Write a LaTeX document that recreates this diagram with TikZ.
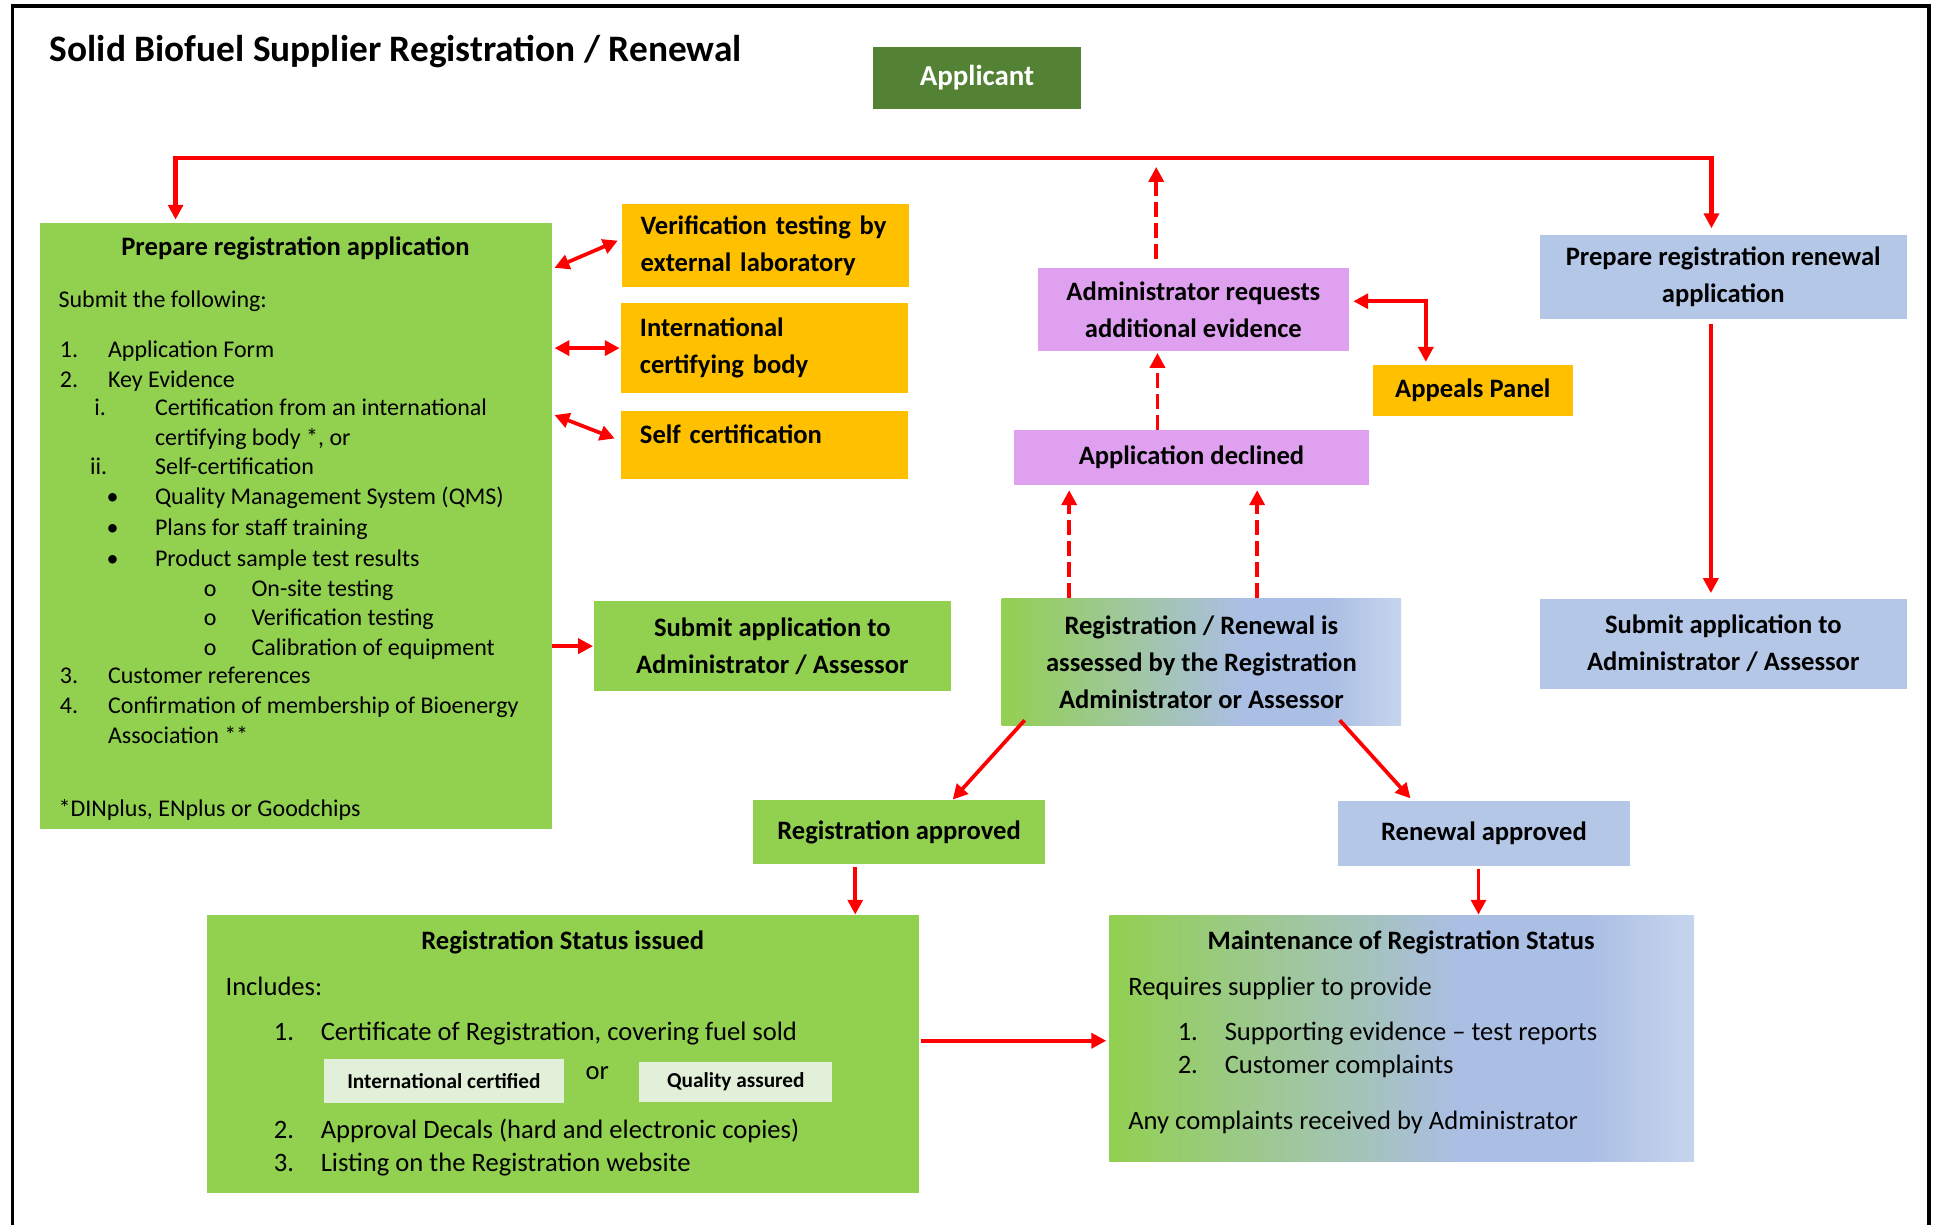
\documentclass[tikz,border=0pt]{standalone}
\usepackage{fontspec}
\setmainfont{Carlito}
\usetikzlibrary{arrows.meta,calc}
\definecolor{cgreen}{RGB}{146,208,80}
\definecolor{corange}{RGB}{255,192,0}
\definecolor{cpurple}{RGB}{224,160,240}
\definecolor{cblue}{RGB}{180,199,231}
\definecolor{cdark}{RGB}{84,130,53}
\definecolor{clight}{RGB}{226,240,217}
\definecolor{gb}{RGB}{171,190,228}
\definecolor{gl}{RGB}{198,213,238}
\pgfdeclarehorizontalshading{gradbox}{100bp}{color(0bp)=(cgreen); color(25bp)=(cgreen); color(55bp)=(gb); color(66bp)=(gb); color(75bp)=(gl); color(100bp)=(gl)}
\newcounter{tln}
\newcommand\lineA[4][]{\stepcounter{tln}\node[txt,fa,#1] (tl\arabic{tln}) at (#2,#3) {#4};}
\newcommand\lineB[4][]{\stepcounter{tln}\node[txt,fb,#1] (tl\arabic{tln}) at (#2,#3) {#4};}
\newcommand\bx[7]{\node[#2, minimum width={(#5-#3)*0.5pt}, minimum height={(#6-#4)*0.5pt}] (#1) at ({(#3+#5)/2},{(#4+#6)/2}) {#7};}
\tikzset{
  box/.style={draw=none, inner sep=0pt, align=center, font=\fontsize{10.75}{15}\selectfont\bfseries},
  obox/.style={box, fill=corange, align=left, text width=101pt, inner xsep=7.5pt},
  sbox/.style={box, fill=clight, font=\fontsize{8.6}{10}\selectfont\bfseries},
  txt/.style={anchor=base west, inner sep=0pt},
  fa/.style={font=\fontsize{9.7}{12}\selectfont},
  fb/.style={font=\fontsize{10.75}{13}\selectfont},
  fbb/.style={font=\fontsize{10.75}{13}\selectfont\bfseries},
  tip/.tip={Triangle[length=6pt,width=6pt]},
  arr/.style={draw=red, line width=1.5pt, -tip},
  darr/.style={draw=red, line width=1.5pt, tip-tip},
  dsh/.style={arr, dash pattern=on 6pt off 2.5pt}
}
\begin{document}
\begin{tikzpicture}[x=0.5pt,y=-0.5pt]
\useasboundingbox (0,0) rectangle (1568,991);
\draw[line width=1.5pt] (10,991) -- (10,5) -- (1560,5) -- (1560,991);

\node[txt, font=\fontsize{15.1}{17}\selectfont\bfseries] (title) at (40,50) {Solid Biofuel Supplier Registration / Renewal};
\bx{applicant}{box, fill=cdark, text=white, font=\fontsize{11.7}{14}\selectfont\bfseries}{706}{38}{874}{88}{Applicant}

% boxes
\bx{prep}{box, fill=cgreen}{32}{180}{446}{670}{}
\bx{ver}{obox}{503}{165}{735}{232}{Verification testing by\\external laboratory}
\bx{intl}{obox}{503}{245}{734}{318}{International\\certifying body}
\bx{self}{obox, text depth=8.5pt}{503}{332}{734}{387}{Self certification}
\bx{subL}{box, fill=cgreen}{480}{486}{769}{559}{Submit application to\\Administrator / Assessor}
\bx{admin}{box, fill=cpurple}{839}{217}{1091}{284}{Administrator requests\\additional evidence}
\bx{appeals}{box, fill=corange}{1110}{295}{1272}{336}{Appeals Panel}
\bx{declined}{box, fill=cpurple}{820}{348}{1107}{392}{Application declined}
\bx{assess}{box, shade, shading=gradbox}{810}{484}{1133}{587}{Registration / Renewal is\\assessed by the Registration\\Administrator or Assessor}
\bx{renew}{box, fill=cblue}{1245}{190}{1542}{258}{Prepare registration renewal\\application}
\bx{subR}{box, fill=cblue}{1245}{484}{1542}{557}{Submit application to\\Administrator / Assessor}
\bx{regapp}{box, fill=cgreen}{609}{647}{845}{699}{Registration approved}
\bx{renapp}{box, fill=cblue}{1082}{648}{1318}{700}{Renewal approved}
\bx{status}{box, fill=cgreen}{167}{740}{743}{965}{}
\bx{maint}{box, shade, shading=gradbox}{897}{740}{1370}{939}{}
\bx{intc}{sbox}{262}{856}{456}{892}{International certified}
\bx{qa}{sbox}{517}{859}{673}{891}{Quality assured}

% left box text
\node[txt, fbb, anchor=base] (prept) at (239,207) {Prepare registration application};
\lineA{47}{249}{Submit the following:}
\lineA{48}{289}{1.}\lineA{87}{289}{Application Form}
\lineA{48}{313}{2.}\lineA{87}{313}{Key Evidence}
\lineA[anchor=base east]{86}{336}{i.}\lineA{125}{336}{Certification from an international}
\lineA{125}{360}{certifying body *, or}
\lineA[anchor=base east]{87}{384}{ii.}\lineA{125}{384}{Self-certification}
\lineA[anchor=base]{91}{408}{\textbullet}\lineA{125}{408}{Quality Management System (QMS)}
\lineA[anchor=base]{91}{433}{\textbullet}\lineA{125}{433}{Plans for staff training}
\lineA[anchor=base]{91}{458}{\textbullet}\lineA{125}{458}{Product sample test results}
\lineA[anchor=base]{170}{482}{o}\lineA{203}{482}{On-site testing}
\lineA[anchor=base]{170}{506}{o}\lineA{203}{506}{Verification testing}
\lineA[anchor=base]{170}{530}{o}\lineA{203}{530}{Calibration of equipment}
\lineA{48}{553}{3.}\lineA{87}{553}{Customer references}
\lineA{48}{577}{4.}\lineA{87}{577}{Confirmation of membership of Bioenergy}
\lineA{87}{601}{Association **}
\lineA{47}{660}{*DINplus, ENplus or Goodchips}

% status box text
\node[txt, fbb, anchor=base] (statust) at (455,768) {Registration Status issued};
\lineB{182}{805}{Includes:}
\lineB{221}{841}{1.}\lineB{259}{841}{Certificate of Registration, covering fuel sold}
\lineB[anchor=base]{483}{873}{or}
\lineB{221}{921}{2.}\lineB{259}{921}{Approval Decals (hard and electronic copies)}
\lineB{221}{947}{3.}\lineB{259}{947}{Listing on the Registration website}

% maintenance text
\node[txt, fbb, anchor=base] (maintt) at (1133,768) {Maintenance of Registration Status};
\lineB{912}{805}{Requires supplier to provide}
\lineB{952}{841}{1.}\lineB{990}{841}{Supporting evidence – test reports}
\lineB{952}{868}{2.}\lineB{990}{868}{Customer complaints}
\lineB{912}{913}{Any complaints received by Administrator}

% connectors
\coordinate (tL) at (142,128);
\coordinate (tR) at (1384,128);
\draw[darr, line width=1.7pt, shorten <=1pt, shorten >=2.5pt] (tL |- prep.north) -- (tL) -- (tR) -- (tR |- renew.north);
\coordinate (dA) at ($(admin.north)+(-30,0)$);
\draw[dsh, shorten <=3.5pt, shorten >=3.5pt] (dA) -- (dA |- tL);
\coordinate (dD) at ($(declined.north)+(-27.5,0)$);
\draw[dsh, shorten >=0.5pt] (dD) -- (dD |- admin.south);
\coordinate (dE1) at ($(assess.north west)+(55,0)$);
\coordinate (dE2) at ($(assess.north west)+(207,0)$);
\draw[dsh, shorten >=2pt] (dE1) -- (dE1 |- declined.south);
\draw[dsh, shorten >=2pt] (dE2) -- (dE2 |- declined.south);
\coordinate (ap1) at ($(admin.north east)+(3,27)$);
\coordinate (ap2) at ($(appeals.north)+(-38,-2)$);
\draw[darr] (ap1) -| (ap2);
\draw[darr] ($(prep.north east)+(2,37)$) -- ($(ver.north west)+(-3,30)$);
\draw[darr, shorten <=1pt, shorten >=0.5pt] (prep.east |- intl.west) -- (intl.west);
\draw[darr] ($(prep.north east)+(2,156)$) -- ($(self.north west)+(-5,23)$);
\draw[arr, shorten >=0pt] (prep.east |- subL.west) -- (subL.west);
\coordinate (rr) at ($(renew.south)+(-10,0)$);
\draw[arr, shorten <=2pt, shorten >=2pt] (rr) -- (rr |- subR.north);
\draw[arr] ($(assess.south west)+(19,-5)$) -- ($(regapp.north east)+(-75,0)$);
\draw[arr] ($(assess.south east)+(-50,-5)$) -- ($(renapp.north west)+(59,-2)$);
\coordinate (ra) at ($(regapp.south west)+(83,0)$);
\draw[arr, shorten <=1pt] (ra) -- (ra |- status.north);
\coordinate (rn) at ($(renapp.south west)+(114,0)$);
\draw[arr, shorten <=1pt] (rn) -- (rn |- maint.north);
\coordinate (sm) at ($(status.north east)+(1,102)$);
\draw[arr, shorten >=1pt] (sm) -- (sm -| maint.west);
\end{tikzpicture}
\end{document}
